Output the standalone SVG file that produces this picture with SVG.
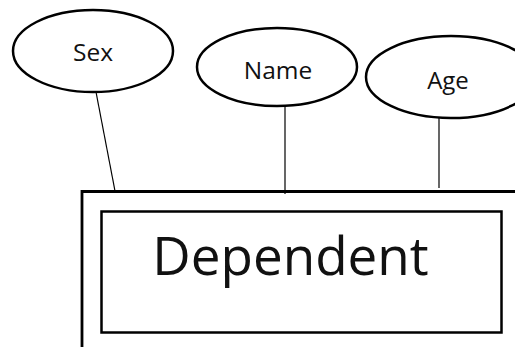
<svg xmlns="http://www.w3.org/2000/svg" width="515" height="347" viewBox="0 0 515 347">
<style>
.attr{fill:#fff;stroke:#000;stroke-width:2.5}
.lbl{font-family:"Open Sans","Noto Sans","Liberation Sans",sans-serif;fill:#111;text-anchor:middle}
.conn{stroke:#000;stroke-width:1.2;fill:none}
</style>
<rect width="515" height="347" fill="#fff"/>
<g id="connectors">
<line class="conn" x1="96" y1="92" x2="115" y2="191"/>
<line class="conn" x1="285" y1="106" x2="285" y2="194"/>
<line class="conn" x1="439" y1="118" x2="439" y2="188"/>
</g>
<g id="sex">
<ellipse class="attr" cx="93" cy="51" rx="80" ry="41"/>
<text class="lbl" x="93" y="61" font-size="24.5">Sex</text>
</g>
<g id="name">
<ellipse class="attr" cx="277" cy="67" rx="80" ry="39"/>
<text class="lbl" x="278" y="79" font-size="24.5">Name</text>
</g>
<g id="age">
<ellipse class="attr" cx="451" cy="77" rx="85" ry="41"/>
<text class="lbl" x="448" y="89" font-size="24">Age</text>
</g>
<g id="dependent">
<path d="M82 347 V191.5 H515" fill="none" stroke="#000" stroke-width="2.8"/>
<rect x="101.5" y="211.5" width="400" height="121" fill="none" stroke="#000" stroke-width="2.5"/>
<text class="lbl" x="290.5" y="275" font-size="53">Dependent</text>
</g>
</svg>
